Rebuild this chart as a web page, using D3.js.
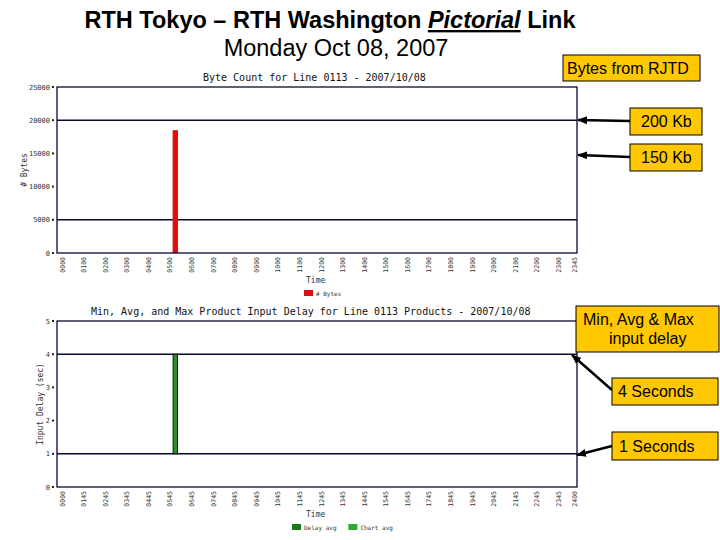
<!DOCTYPE html>
<html><head><meta charset="utf-8">
<script src="https://cdn.jsdelivr.net/npm/d3@7"></script>
<style>body{margin:0;background:#fff}svg{display:block}</style>
</head><body>
<svg id="c" width="720" height="540"></svg>
<script>
// ---- data ----
const mainTitle = ["RTH Tokyo – RTH Washington ", "Pictorial", " Link"];
const subTitle = "Monday Oct 08, 2007";
const tickHours = [0,1,2,3,4,5,6,7,8,9,10,11,12,13,14,15,16,17,18,19,20,21,22,23,23.75];
const topTickLabels = ["0000","0100","0200","0300","0400","0500","0600","0700","0800","0900","1000","1100","1200","1300","1400","1500","1600","1700","1800","1900","2000","2100","2200","2300","2345"];
const bottomTickLabels = ["0000","0145","0245","0345","0445","0545","0645","0745","0845","0945","1045","1145","1245","1345","1445","1545","1645","1745","1845","1945","2045","2145","2245","2345","2400"];
const byteTimes = [5.25];
const byteValues = [18500];
const byteTicks = [0,5000,10000,15000,20000,25000];
const byteLines = [20000,5000];
const delayTimes = [5.25];
const delayMin = [1];
const delayMax = [4];
const delayTicks = [0,1,2,3,4,5];
const delayLines = [4,1];
const topChartTitle = "Byte Count for Line 0113 - 2007/10/08";
const bottomChartTitle = "Min, Avg, and Max Product Input Delay for Line 0113 Products - 2007/10/08";
const topLegend = ["# Bytes"];
const bottomLegend = ["Delay avg","Chart avg"];
const callouts = [
  {text:["Bytes from RJTD"], x:563, y:55, w:137, h:26, tx:567, arrow:null},
  {text:["200 Kb"], x:630, y:108, w:72, h:27, tx:641, arrow:[630,121,578,120]},
  {text:["150 Kb"], x:630, y:144, w:72, h:27, tx:641, arrow:[630,157,578,155]},
  {text:["Min, Avg & Max","input delay"], x:576, y:306, w:143, h:46, tx:583, tx2:609, arrow:null},
  {text:["4 Seconds"], x:612, y:378, w:106, h:27, tx:618, arrow:[612,390,572,355]},
  {text:["1 Seconds"], x:612, y:432, w:106, h:28, tx:619, arrow:[612,446,577,455]}
];

const svg = d3.select("#c");
const mono = "DejaVu Sans Mono, monospace";
const sans = "Liberation Sans, Arial, sans-serif";
const frameCol = "#0a0a30";

// main titles
const t1 = svg.append("text").attr("x",330).attr("y",28).attr("text-anchor","middle")
  .attr("font-family",sans).attr("font-size",23.5).attr("font-weight","bold").attr("fill","#000");
t1.append("tspan").text(mainTitle[0]);
t1.append("tspan").text(mainTitle[1]).attr("font-style","italic").attr("text-decoration","underline");
t1.append("tspan").text(mainTitle[2]);
svg.append("text").attr("x",336).attr("y",56).attr("text-anchor","middle")
  .attr("font-family",sans).attr("font-size",23.5).attr("fill","#000").text(subTitle);

const x = d3.scaleLinear().domain([0,24]).range([62,580]);
const barW = x(0.25)-x(0);

function panel(o){
  const y = d3.scaleLinear().domain(o.domain).range([o.bottom,o.top]);
  const g = svg.append("g");
  g.append("text").attr("x",o.titleX).attr("y",o.top-6).attr("font-family",mono).attr("font-size",10)
    .attr("fill","#111").text(o.title);
  g.selectAll(".hl").data(o.lines).join("line")
    .attr("x1",57).attr("x2",577).attr("y1",d=>y(d)).attr("y2",d=>y(d))
    .attr("stroke",frameCol).attr("stroke-width",1.5);
  o.drawBars(g,y);
  g.append("rect").attr("x",57).attr("y",o.top).attr("width",520).attr("height",o.bottom-o.top)
    .attr("fill","none").attr("stroke",frameCol).attr("stroke-width",1.3);
  g.selectAll(".yt").data(o.ticks).join("text")
    .attr("x",50).attr("y",d=>y(d)+2.5).attr("text-anchor","end")
    .attr("font-family",mono).attr("font-size",7).attr("fill","#333").text(d=>d);
  g.selectAll(".ytm").data(o.ticks).join("rect")
    .attr("x",52).attr("y",d=>y(d)-1).attr("width",2).attr("height",2).attr("fill","#222");
  g.selectAll(".xt").data(tickHours).join("text")
    .attr("transform",(d)=>`translate(${x(d)+2.5},${o.bottom+4}) rotate(-90)`)
    .attr("text-anchor","end").attr("font-family",mono).attr("font-size",6.5).attr("fill","#333")
    .text((d,i)=>o.xlabels[i]);
  g.append("text").attr("transform",`translate(${o.ylabX},${(o.top+o.bottom)/2}) rotate(-90)`)
    .attr("text-anchor","middle").attr("font-family",mono).attr("font-size",8).attr("fill","#333").text(o.ylab);
  g.append("text").attr("x",306).attr("y",o.bottom+30).attr("font-family",mono).attr("font-size",8)
    .attr("fill","#333").text("Time");
  let lx = o.legX;
  o.legend.forEach((l,i)=>{
    g.append("rect").attr("x",lx).attr("y",o.bottom+37).attr("width",9).attr("height",6).attr("fill",o.legCols[i]);
    g.append("text").attr("x",lx+12).attr("y",o.bottom+43).attr("font-family",mono).attr("font-size",6)
      .attr("fill","#333").text(l);
    lx += 12 + l.length*3.6 + 12;
  });
}

panel({top:87,bottom:253,domain:[0,25000],ticks:byteTicks,lines:byteLines,title:topChartTitle,titleX:203,
  xlabels:topTickLabels,ylab:"# Bytes",ylabX:27,legend:topLegend,legX:304,legCols:["#dd1111"],
  drawBars:(g,y)=>{
    g.selectAll(".b").data(byteTimes).join("rect")
      .attr("x",d=>x(d)-barW/2).attr("width",barW)
      .attr("y",(d,i)=>y(byteValues[i])).attr("height",(d,i)=>y(0)-y(byteValues[i]))
      .attr("fill","#e01010");
  }});

panel({top:321,bottom:487,domain:[0,5],ticks:delayTicks,lines:delayLines,title:bottomChartTitle,titleX:91,
  xlabels:bottomTickLabels,ylab:"Input Delay (sec)",ylabX:43,legend:bottomLegend,legX:292,legCols:["#1a7a1a","#2eaa2e"],
  drawBars:(g,y)=>{
    g.selectAll(".b").data(delayTimes).join("rect")
      .attr("x",d=>x(d)-barW/2+0.5).attr("width",barW-1)
      .attr("y",(d,i)=>y(delayMax[i])).attr("height",(d,i)=>y(delayMin[i])-y(delayMax[i]))
      .attr("fill","#2a8f2a").attr("stroke","#0a200a").attr("stroke-width",1);
  }});

svg.append("defs").append("marker").attr("id","ah").attr("viewBox","0 0 10 10")
  .attr("refX",9).attr("refY",5).attr("markerWidth",4).attr("markerHeight",4).attr("orient","auto")
  .append("path").attr("d","M0,1 L10,5 L0,9 Z").attr("fill","#000");

callouts.forEach(c=>{
  if(c.arrow){
    svg.append("line").attr("x1",c.arrow[0]).attr("y1",c.arrow[1]).attr("x2",c.arrow[2]).attr("y2",c.arrow[3])
      .attr("stroke","#000").attr("stroke-width",2.5).attr("marker-end","url(#ah)");
  }
  svg.append("rect").attr("x",c.x).attr("y",c.y).attr("width",c.w).attr("height",c.h)
    .attr("fill","#ffc800").attr("stroke","#000").attr("stroke-width",1);
  const lh = 19;
  c.text.forEach((t,i)=>{
    svg.append("text").attr("x",i===0?c.tx:c.tx2)
      .attr("y",c.y+c.h/2+5.5 - (c.text.length-1)*lh/2 + i*lh)
      .attr("font-family",sans).attr("font-size",16).attr("fill","#000").text(t);
  });
});
</script>
</body></html>
